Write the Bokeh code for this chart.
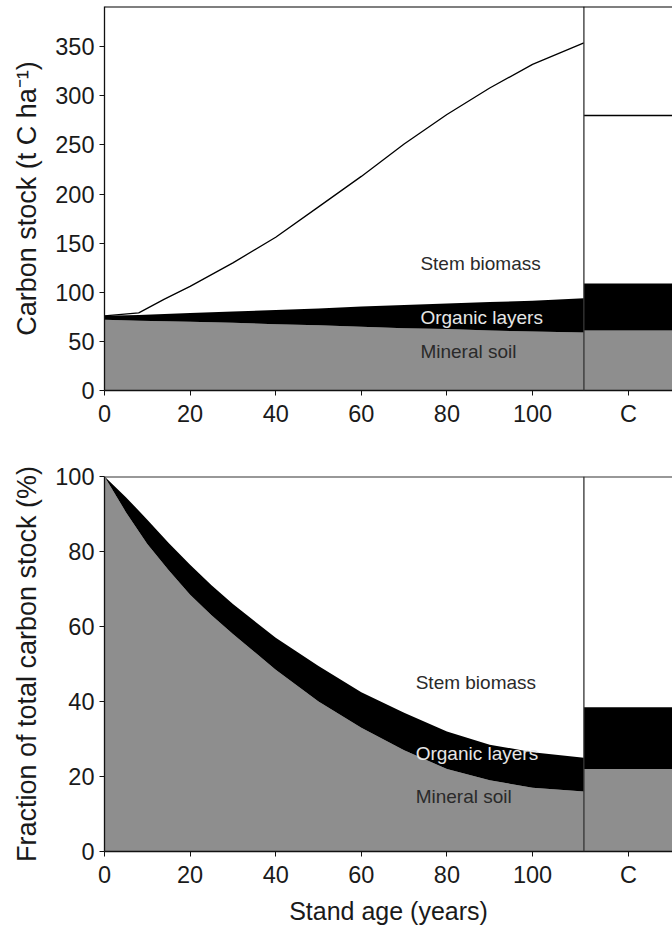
from bokeh.plotting import figure
from bokeh.layouts import column
from bokeh.models import FixedTicker, Span
from bokeh.core.properties import value
from bokeh.embed import file_html
from bokeh.resources import INLINE

# ---- data ----
age_top = [0, 8, 14, 20, 30, 40, 50, 60, 70, 80, 90, 100, 112]
mineral_top = [72, 71, 70.5, 70, 69, 67.5, 66.5, 65, 63.5, 62.5, 61, 60, 59]
organic_top = [76, 77, 78, 79, 80.5, 82, 83.5, 85.5, 87, 88.5, 90, 91.5, 94]
total_top = [76, 79, 93, 106, 130, 156, 187, 218, 251, 281, 308, 332, 354]

c_mineral_top = 61
c_organic_top = 109
c_total_top = 280

age_bot = [0, 5, 10, 15, 20, 25, 30, 40, 50, 60, 70, 80, 90, 100, 112]
organic_frac = [100, 94.5, 88.5, 82.3, 76.5, 71, 66, 57, 49.5, 42.5, 37, 32, 28.5, 26.5, 25]
mineral_frac = [100, 90.5, 82, 75, 68.5, 63, 58, 48.5, 40, 33, 27, 22, 19, 17, 16]

c_mineral_frac = 22
c_organic_frac = 38.5

x_ticks = [0, 20, 40, 60, 80, 100]
c_tick = 122.4
y_ticks_top = [0, 50, 100, 150, 200, 250, 300, 350]
y_ticks_bot = [0, 20, 40, 60, 80, 100]

GRAY = "#8e8e8e"
FONT = "Liberation Sans"
TXT = "#1a1a1a"
X_END = 132.7
C_RIGHT = 140
Y_TOP_END = 391


def style(p, yticks):
    p.xgrid.visible = False
    p.ygrid.visible = False
    p.outline_line_color = None
    p.background_fill_color = "white"
    p.border_fill_color = "white"
    p.xaxis.ticker = FixedTicker(ticks=x_ticks + [c_tick])
    p.xaxis.major_label_overrides = {c_tick: "C"}
    p.yaxis.ticker = FixedTicker(ticks=yticks)
    for ax in (p.xaxis, p.yaxis):
        ax.axis_line_color = "#111111"
        ax.axis_line_width = 1.3
        ax.major_tick_line_color = "#111111"
        ax.major_tick_out = 5
        ax.major_tick_in = 0
        ax.minor_tick_line_color = None
        ax.major_label_text_font = FONT
        ax.major_label_text_font_size = "23.5px"
        ax.major_label_text_color = TXT
        ax.axis_label_text_font = FONT
        ax.axis_label_text_font_style = "normal"
        ax.axis_label_text_color = TXT
    p.yaxis.axis_label_text_font_size = "27px"
    p.xaxis.axis_label_text_font_size = "25px"
    p.xaxis.major_label_standoff = 5
    p.yaxis.major_label_standoff = 5
    p.yaxis.axis_label_standoff = 10
    p.xaxis.axis_label_standoff = 6


def labels(p, x, ys):
    p.text(x=[x], y=[ys[0]], text=["Stem biomass"], text_font=value(FONT),
           text_font_size="19px", text_color="#2a2a2a", text_baseline="middle")
    p.text(x=[x], y=[ys[1]], text=["Organic layers"], text_font=value(FONT),
           text_font_size="19px", text_color="#e6e6e6", text_baseline="middle")
    p.text(x=[x], y=[ys[2]], text=["Mineral soil"], text_font=value(FONT),
           text_font_size="19px", text_color="#2a2a2a", text_baseline="middle")


# ---- top panel ----
p1 = figure(width=672, height=448, x_range=(0, X_END), y_range=(0, Y_TOP_END),
            output_backend="svg", toolbar_location=None,
            min_border_left=104, min_border_right=0, min_border_top=6,
            min_border_bottom=58)
style(p1, y_ticks_top)
p1.yaxis.axis_label = "Carbon stock (t C ha\u207b\u00b9)"

p1.varea(x=age_top, y1=[0] * len(age_top), y2=mineral_top, fill_color=GRAY)
p1.varea(x=age_top, y1=mineral_top, y2=organic_top, fill_color="black")
p1.line(x=age_top, y=total_top, line_color="black", line_width=1.3)

c_left = age_top[-1]
p1.quad(left=[c_left], right=[C_RIGHT], bottom=[0], top=[c_mineral_top],
        fill_color=GRAY, line_color=None)
p1.quad(left=[c_left], right=[C_RIGHT], bottom=[c_mineral_top], top=[c_organic_top],
        fill_color="black", line_color=None)
p1.segment(x0=[c_left], x1=[C_RIGHT], y0=[c_total_top], y1=[c_total_top],
           line_color="black", line_width=1.3)
p1.add_layout(Span(location=c_left, dimension="height", line_color="#333333", line_width=1.3))
p1.add_layout(Span(location=Y_TOP_END, dimension="width", line_color="black", line_width=2))

labels(p1, 73.8, [129, 74, 40])

# ---- bottom panel ----
p2 = figure(width=672, height=479, x_range=(0, X_END), y_range=(0, 100),
            output_backend="svg", toolbar_location=None,
            min_border_left=104, min_border_right=0, min_border_top=28,
            min_border_bottom=68)
style(p2, y_ticks_bot)
p2.yaxis.axis_label = "Fraction of total carbon stock (%)"
p2.xaxis.axis_label = "Stand age (years)"

p2.varea(x=age_bot, y1=[0] * len(age_bot), y2=mineral_frac, fill_color=GRAY)
p2.varea(x=age_bot, y1=mineral_frac, y2=organic_frac, fill_color="black")

c_left2 = age_bot[-1]
p2.quad(left=[c_left2], right=[C_RIGHT], bottom=[0], top=[c_mineral_frac],
        fill_color=GRAY, line_color=None)
p2.quad(left=[c_left2], right=[C_RIGHT], bottom=[c_mineral_frac], top=[c_organic_frac],
        fill_color="black", line_color=None)
p2.add_layout(Span(location=c_left2, dimension="height", line_color="#333333", line_width=1.3))
p2.add_layout(Span(location=100, dimension="width", line_color="#333333", line_width=2))

labels(p2, 72.7, [45, 26.2, 14.8])

layout = column(p1, p2, spacing=0)
open("out.html", "w").write(file_html(layout, INLINE))
